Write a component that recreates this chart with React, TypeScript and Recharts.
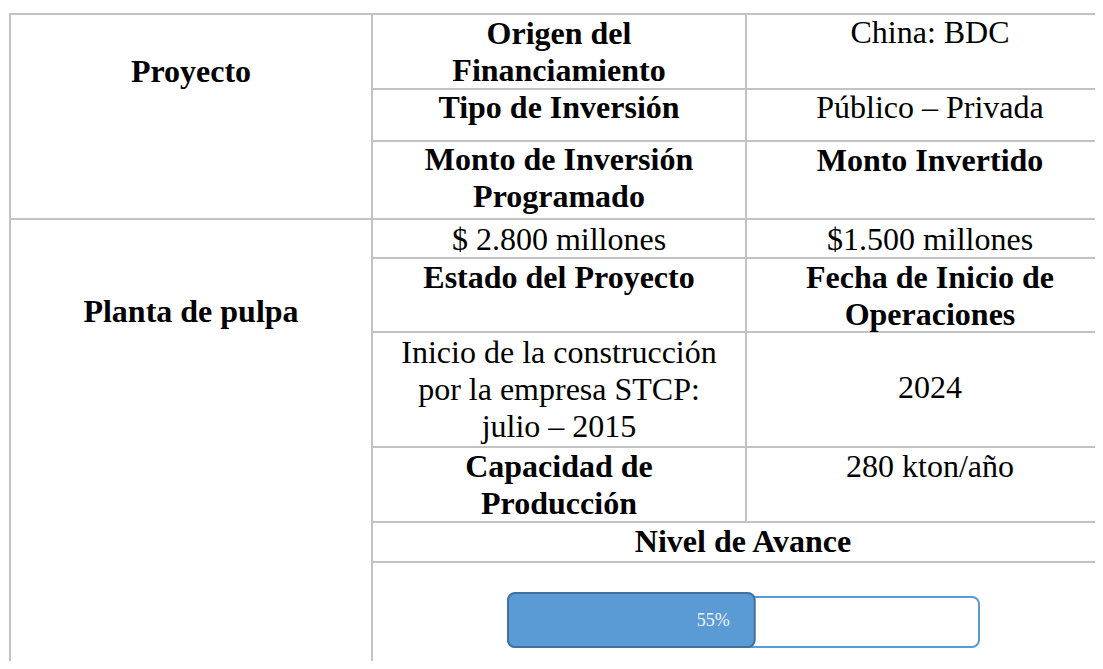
import { Bar, BarChart, LabelList, Rectangle, XAxis, YAxis } from 'recharts';

// table text
const col1 = [10, 372];
const col2 = [372, 746];
const col3 = [746, 1114];
const span23 = [372, 1114];

const cells = [
  { text: 'Proyecto', col: col1, top: 53, bold: true },
  { text: 'Origen del\nFinanciamiento', col: col2, top: 15, bold: true },
  { text: 'China: BDC', col: col3, top: 14, bold: false },
  { text: 'Tipo de Inversión', col: col2, top: 89, bold: true },
  { text: 'Público – Privada', col: col3, top: 89, bold: false },
  { text: 'Monto de Inversión\nProgramado', col: col2, top: 141, bold: true },
  { text: 'Monto Invertido', col: col3, top: 142, bold: true },
  { text: 'Planta de pulpa', col: col1, top: 293, bold: true },
  { text: '$ 2.800 millones', col: col2, top: 221, bold: false },
  { text: '$1.500 millones', col: col3, top: 221, bold: false },
  { text: 'Estado del Proyecto', col: col2, top: 259, bold: true },
  { text: 'Fecha de Inicio de\nOperaciones', col: col3, top: 259, bold: true },
  { text: 'Inicio de la construcción\npor la empresa STCP:\njulio – 2015', col: col2, top: 334, bold: false },
  { text: '2024', col: col3, top: 369, bold: false },
  { text: 'Capacidad de\nProducción', col: col2, top: 448, bold: true },
  { text: '280 kton/año', col: col3, top: 448, bold: false },
  { text: 'Nivel de Avance', col: span23, top: 523, bold: true },
];

// grid lines: [y, xStart] and [x, yStart, yEnd]
const hLines = [
  [14, 10],
  [89, 372],
  [141, 372],
  [219, 10],
  [258, 372],
  [332, 372],
  [447, 372],
  [522, 372],
  [562, 372],
];
const vLines = [
  [10, 14, 669],
  [372, 14, 669],
  [746, 14, 522],
];

// progress
const progress = [{ name: 'Nivel de Avance', value: 55 }];

const FONT = '"Liberation Serif", "Times New Roman", serif';
const LINE = '#c3c3c3';

// track outline sits a little lower than the filled bar
const Track = (props: any) => (
  <Rectangle
    x={props.x}
    y={props.y + 4}
    width={props.width}
    height={props.height - 4}
    radius={7}
    fill="#fff"
    stroke="#5b9bd5"
    strokeWidth={2}
  />
);

export default function App() {
  return (
    <div
      style={{
        position: 'relative',
        margin: -8,
        width: 1103,
        height: 669,
        overflow: 'hidden',
        background: '#fff',
        fontFamily: FONT,
        color: '#000',
      }}
    >
      {hLines.map(([y, x]) => (
        <div
          key={'h' + y}
          style={{ position: 'absolute', left: x - 1, top: y - 1, width: 1103 - x + 1, height: 2, background: LINE }}
        />
      ))}
      {vLines.map(([x, y1, y2]) => (
        <div
          key={'v' + x}
          style={{ position: 'absolute', left: x - 1, top: y1 - 1, width: 2, height: y2 - y1 + 1, background: LINE }}
        />
      ))}

      {cells.map((c) => (
        <div
          key={c.text}
          style={{
            position: 'absolute',
            left: c.col[0],
            top: c.top,
            width: c.col[1] - c.col[0],
            textAlign: 'center',
            fontSize: 32,
            lineHeight: '37px',
            fontWeight: c.bold ? 700 : 400,
            whiteSpace: 'pre-line',
          }}
        >
          {c.text}
        </div>
      ))}

      <div style={{ position: 'absolute', left: 506, top: 591 }}>
        <BarChart
          width={475}
          height={58}
          data={progress}
          layout="vertical"
          barCategoryGap={0}
          margin={{ top: 2, right: 2, bottom: 2, left: 2 }}
        >
          <XAxis type="number" domain={[0, 105]} hide />
          <YAxis type="category" dataKey="name" hide />
          <Bar
            dataKey="value"
            fill="#5b9bd5"
            stroke="#41719c"
            strokeWidth={2}
            radius={7}
            background={<Track />}
            isAnimationActive={false}
          >
            <LabelList
              dataKey="value"
              position="insideRight"
              offset={25}
              formatter={(v: any) => `${v}%`}
              fill="#f2f2f2"
              fontSize={18}
              fontFamily={FONT}
            />
          </Bar>
        </BarChart>
      </div>
    </div>
  );
}
